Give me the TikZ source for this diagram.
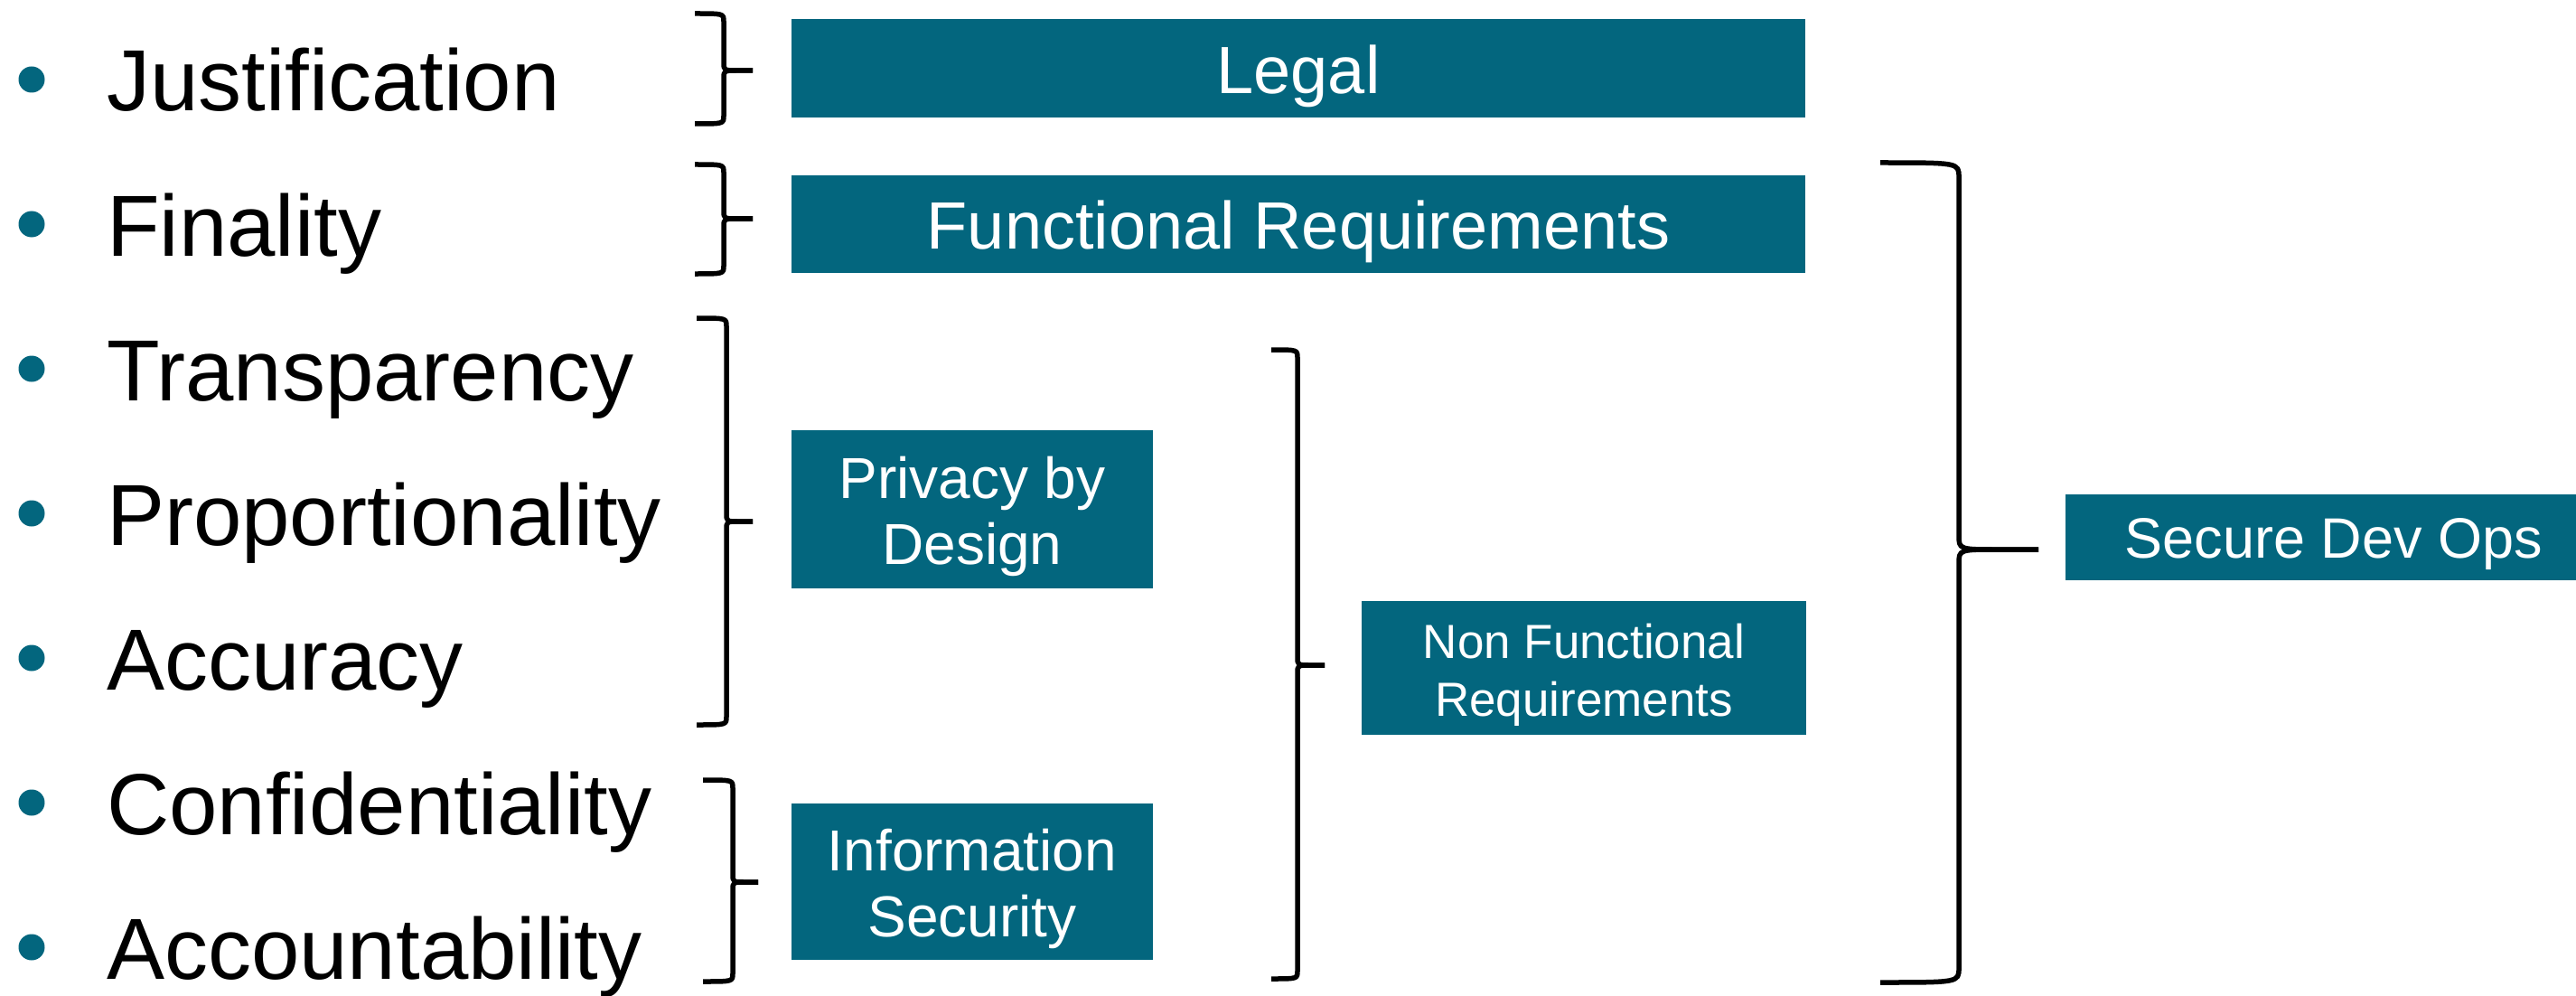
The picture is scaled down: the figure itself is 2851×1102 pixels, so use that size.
\documentclass[tikz,border=0pt]{standalone}
\usepackage{fontspec}
\setmainfont{Liberation Sans}
\definecolor{boxteal}{RGB}{3,102,126}

% right curly brace: xl = free ends, xv = spine, xt = tip, top/mid/bot, r = bend size
\newcommand\drawbrace[7]{%
  \draw[bracestyle] (#1,#4) .. controls (#2,#4) and (#2,#4) .. (#2,#4+#7)
    -- (#2,#5-#7) .. controls (#2,#5) and (#2,#5) .. ({(#2+#3)/2},#5) -- (#3,#5);
  \draw[bracestyle] (#3,#5) -- ({(#2+#3)/2},#5) .. controls (#2,#5) and (#2,#5) .. (#2,#5+#7)
    -- (#2,#6-#7) .. controls (#2,#6) and (#2,#6) .. (#1,#6);
}

\begin{document}
\begin{tikzpicture}[x=1pt,y=-1pt,
  bracestyle/.style={line width=5.5pt, line join=round, black},
  box/.style={fill=boxteal, inner sep=0pt, anchor=center},
  boxtext/.style={text=white, inner sep=0pt, align=center, anchor=center, yshift=-8pt},
  item/.style={anchor=base west, inner sep=0pt, font=\fontsize{96}{110}\selectfont},
  dot/.style={circle, fill=boxteal, inner sep=0pt, minimum size=29pt}
]
\useasboundingbox (0,0) rectangle (2851,1102);
\clip (0,0) rectangle (2851,1102);
\fill[white] (0,0) rectangle (2851,1102);

% bullet list
\foreach \name/\txt/\base in {j/Justification/123, f/Finality/283, t/Transparency/443,
    p/Proportionality/603, a/Accuracy/763, c/Confidentiality/923, ac/Accountability/1083}{
  \node[dot] (dot-\name) at (35,\base-35) {};
  \node[item] (item-\name) at (118,\base) {\txt};
}

% category boxes
\node[box, minimum width=1122pt, minimum height=109pt] (legal) at (1437,76) {};
\node[boxtext, font=\fontsize{74}{84}\selectfont] at (legal.center) {Legal};
\node[box, minimum width=1122pt, minimum height=107pt] (func) at (1437,248) {};
\node[boxtext, font=\fontsize{74}{84}\selectfont] at (func.center) {Functional Requirements};
\node[box, minimum width=400pt, minimum height=175pt] (pbd) at (1076,563) {};
\node[boxtext, font=\fontsize{64}{73}\selectfont] at (pbd.center) {Privacy by\\Design};
\node[box, minimum width=400pt, minimum height=173pt] (infosec) at (1076,975) {};
\node[boxtext, font=\fontsize{64}{73}\selectfont] at (infosec.center) {Information\\Security};
\node[box, minimum width=492pt, minimum height=148pt] (nfr) at (1753,739) {};
\node[boxtext, font=\fontsize{53}{64}\selectfont] at (nfr.center) {Non Functional\\Requirements};
\node[box, minimum width=594pt, minimum height=95pt] (sdo) at (2583,594) {};
\node[boxtext, font=\fontsize{63}{72}\selectfont] at (sdo.center) {Secure Dev Ops};

% grouping braces
\drawbrace{769}{801}{833}{15}{78}{137}{9}
\drawbrace{769}{801}{833}{182}{242}{303}{9}
\drawbrace{771}{804}{833}{352}{577}{802}{9}
\drawbrace{778}{811}{839}{863}{976}{1086}{9}
\drawbrace{1407}{1436}{1466}{387}{736}{1083}{9}
\drawbrace{2081}{2168}{2256}{180}{608}{1087}{16}
\end{tikzpicture}
\end{document}
